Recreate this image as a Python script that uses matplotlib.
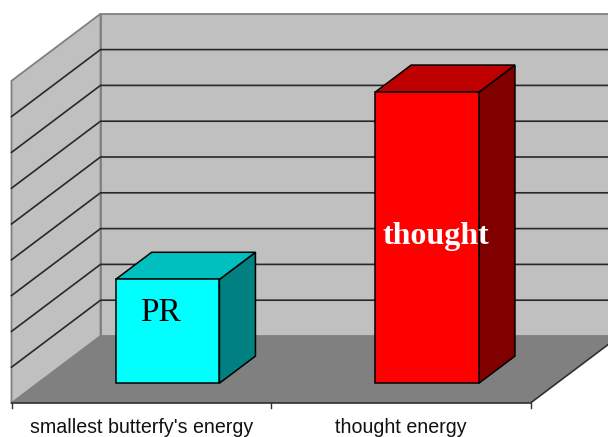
import matplotlib
matplotlib.use("Agg")
import matplotlib.pyplot as plt
from matplotlib.patches import Polygon

categories = ["smallest butterfy's energy", "thought energy"]
values = [2.9, 8.13]
bar_labels = ["PR", "thought"]
value_ticks = list(range(10))

front_colors = ["#00ffff", "#ff0000"]
top_colors = ["#00bfbf", "#bf0000"]
side_colors = ["#008080", "#800000"]

# pixels per unit, the axes fill the whole figure
px_x = 259.5
px_y = 35.8
shear_x = 89 / px_x
shear_y = 67 / px_y
bar_width = 0.4
depth_front = 0.295
depth_back = 0.7


def skew(x, y, d):
    return (x + shear_x * d, y + shear_y * d)


def face(ax, points, color, edge="black", lw=1.1, z=1):
    ax.add_patch(Polygon([skew(*p) for p in points], closed=True, facecolor=color,
                         edgecolor=edge, linewidth=lw, zorder=z, joinstyle="miter"))


fig = plt.figure(figsize=(6.08, 4.37), dpi=100)
ax = fig.add_axes([0, 0, 1, 1])
ax.set_xlim(-11.5 / px_x, (608 - 11.5) / px_x)
ax.set_ylim(-34 / px_y, 403 / px_y)
ax.axis("off")

n = len(categories)
top = value_ticks[-1]

# walls and floor
face(ax, [(0, 0, 1), (n, 0, 1), (n, top, 1), (0, top, 1)], "#c0c0c0", edge="#808080", lw=1.3)
face(ax, [(0, 0, 0), (0, 0, 1), (0, top, 1), (0, top, 0)], "#c0c0c0", edge="#808080", lw=1.3)
face(ax, [(0, 0, 0), (n, 0, 0), (n, 0, 1), (0, 0, 1)], "#808080", edge="none", lw=0)

# gridlines
for v in value_ticks[1:-1]:
    xs, ys = zip(skew(0, v, 0), skew(0, v, 1), skew(n, v, 1))
    ax.plot(xs, ys, color="#282828", lw=1.2, zorder=2)

# axis line and ticks
xs, ys = zip(skew(0, 0, 0), skew(n, 0, 0), skew(n, 0, 1))
ax.plot(xs, ys, color="#303030", lw=1.2, zorder=2)
for i in range(n + 1):
    ax.plot([i, i], [0, -5 / px_y], color="#303030", lw=1.0, zorder=2)

# bars
for i, v in enumerate(values):
    x0 = i + 0.5 - bar_width / 2
    x1 = i + 0.5 + bar_width / 2
    face(ax, [(x1, 0, depth_front), (x1, 0, depth_back), (x1, v, depth_back), (x1, v, depth_front)],
         side_colors[i], z=3)
    face(ax, [(x0, v, depth_front), (x1, v, depth_front), (x1, v, depth_back), (x0, v, depth_back)],
         top_colors[i], z=3)
    face(ax, [(x0, 0, depth_front), (x1, 0, depth_front), (x1, v, depth_front), (x0, v, depth_front)],
         front_colors[i], z=4)

# category labels
for i, name in enumerate(categories):
    ax.text(i + 0.5, -24.5 / px_y, name, ha="center", va="center", fontsize=14.1,
            family="Liberation Sans", color="#111111", zorder=5)

# labels on the bars
x, y = skew(0.5, 1.75, depth_front)
ax.text(x - 7 / px_x, y, bar_labels[0], ha="center", va="baseline", fontsize=24,
        family="Liberation Serif", color="black", zorder=5)
x, y = skew(1.5, 3.9, depth_front)
ax.text(x + 9 / px_x, y, bar_labels[1], ha="center", va="baseline", fontsize=23,
        family="Liberation Serif", weight="bold", color="white", zorder=5)

fig.savefig("out.png", dpi=100)
